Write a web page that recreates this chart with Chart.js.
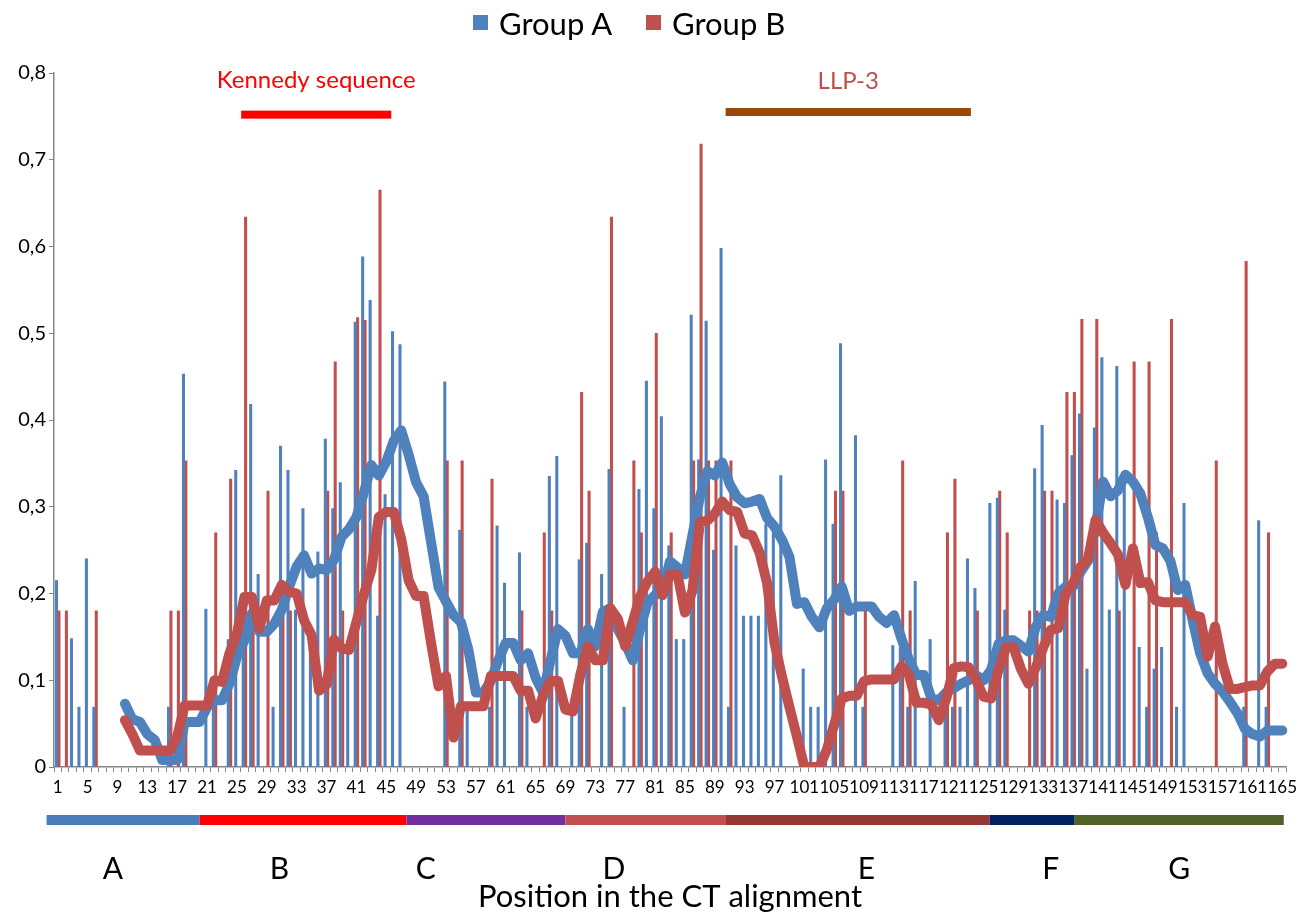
<!DOCTYPE html>
<html>
<head>
<meta charset="utf-8">
<script src="https://cdn.jsdelivr.net/npm/chart.js@4.4.1/dist/chart.umd.min.js"></script>
<style>
html, body { margin: 0; padding: 0; background: #fff; }
#wrap { position: relative; width: 1309px; height: 916px; font-family: Lato, "Open Sans", sans-serif; }
.lg { position: absolute; top: 3px; font-size: 31px; line-height: 40px; color: #000; white-space: nowrap; }
.sq { position: absolute; top: 15px; width: 15px; height: 15px; }
</style>
</head>
<body>
<div id="wrap">
  <canvas id="chart" width="1309" height="916"></canvas>
  <div id="legend"></div>
</div>
<script>
// positions 1..165 in the CT alignment
var positions = [];
for (var i = 1; i <= 165; i++) positions.push(String(i));

var groupA = [
  0.215, null, 0.148, 0.069, 0.24, 0.069, null, null, null, null,
  null, null, null, null, null, 0.069, null, 0.453, null, null,
  0.182, 0.069, null, 0.147, 0.342, 0.18, 0.418, 0.222, null, 0.069,
  0.37, 0.342, 0.181, 0.298, 0.14, 0.248, 0.378, 0.298, 0.328, 0.146,
  0.513, 0.588, 0.538, 0.174, 0.314, 0.502, 0.487, null, null, null,
  null, null, 0.444, null, 0.273, 0.069, null, null, 0.069, 0.278,
  0.212, null, 0.247, 0.069, null, null, 0.335, 0.358, null, 0.069,
  0.239, 0.258, null, 0.222, 0.343, null, 0.069, null, 0.32, 0.445,
  0.298, 0.404, 0.255, 0.147, 0.147, 0.521, 0.354, 0.514, 0.25, 0.598,
  0.069, 0.255, 0.174, 0.174, 0.174, 0.28, 0.27, 0.336, null, null,
  0.113, 0.069, 0.069, 0.354, 0.28, 0.488, null, 0.382, 0.069, null,
  null, null, 0.14, 0.138, 0.069, 0.214, null, 0.147, null, 0.069,
  0.069, 0.069, 0.24, 0.206, null, 0.304, 0.31, 0.181, null, null,
  null, 0.344, 0.394, null, 0.308, 0.304, 0.359, 0.407, 0.113, 0.391,
  0.472, 0.181, 0.462, 0.34, null, 0.138, 0.069, 0.113, 0.138, null,
  0.069, 0.304, null, null, null, null, null, null, null, 0.069,
  null, 0.284, 0.069, null, null
];

var groupB = [
  0.18, 0.18, null, null, null, 0.18, null, null, null, null,
  null, null, null, null, null, 0.18, 0.18, 0.353, null, null,
  null, 0.27, null, 0.332, null, 0.634, 0.18, null, 0.318, null,
  0.18, 0.18, null, null, null, null, 0.318, 0.467, 0.18, null,
  0.518, 0.515, null, 0.665, null, null, null, null, null, null,
  null, null, 0.353, null, 0.353, null, null, null, 0.332, null,
  null, null, 0.18, null, null, 0.27, 0.18, null, null, null,
  0.432, 0.318, null, null, 0.634, null, null, 0.353, 0.27, null,
  0.5, null, 0.27, null, null, 0.353, 0.718, 0.353, 0.353, null,
  0.353, null, null, null, null, null, null, null, null, null,
  null, null, null, null, 0.318, 0.318, null, null, 0.18, null,
  null, null, null, 0.353, 0.18, null, null, null, null, 0.27,
  0.332, null, null, 0.18, null, null, 0.318, 0.27, null, null,
  0.18, 0.18, 0.318, 0.318, null, 0.432, 0.432, 0.516, null, 0.516,
  null, null, 0.18, null, 0.467, null, 0.467, 0.27, null, 0.516,
  null, null, null, null, null, 0.353, null, null, null, 0.583,
  null, null, 0.27, null, null
];

// moving averages
var trendA = [
  null, null, null, null, null, null, null, null, null,
  0.073, 0.055, 0.052, 0.038, 0.031, 0.008, 0.008, 0.008, 0.052, 0.052, 0.052,
  0.069, 0.077, 0.077, 0.096, 0.127, 0.146, 0.177, 0.156, 0.156, 0.165,
  0.181, 0.208, 0.231, 0.244, 0.223, 0.229, 0.227, 0.239, 0.265, 0.274,
  0.288, 0.316, 0.348, 0.336, 0.352, 0.376, 0.388, 0.36, 0.328, 0.312,
  0.259, 0.207, 0.191, 0.175, 0.167, 0.135, 0.086, 0.086, 0.099, 0.123,
  0.143, 0.143, 0.123, 0.131, 0.103, 0.086, 0.123, 0.159, 0.151, 0.131,
  0.131, 0.159, 0.139, 0.179, 0.183, 0.159, 0.143, 0.123, 0.159, 0.19,
  0.198, 0.205, 0.237, 0.23, 0.222, 0.267, 0.311, 0.341, 0.336, 0.351,
  0.326, 0.311, 0.304, 0.306, 0.309, 0.287, 0.277, 0.262, 0.242, 0.188,
  0.19, 0.173, 0.161, 0.183, 0.193, 0.208, 0.18, 0.185, 0.185, 0.185,
  0.173, 0.166, 0.175, 0.148, 0.124, 0.106, 0.106, 0.079, 0.077, 0.086,
  0.091, 0.096, 0.1, 0.106, 0.1, 0.112, 0.142, 0.146, 0.146, 0.14,
  0.133, 0.162, 0.175, 0.173, 0.2, 0.208, 0.208, 0.225, 0.238, 0.277,
  0.329, 0.312, 0.319, 0.337, 0.329, 0.315, 0.288, 0.256, 0.252, 0.238,
  0.204, 0.21, 0.169, 0.131, 0.108, 0.096, 0.087, 0.075, 0.062, 0.044,
  0.038, 0.035, 0.042, 0.042, 0.042
];

var trendB = [
  null, null, null, null, null, null, null, null, null,
  0.054, 0.038, 0.019, 0.019, 0.019, 0.019, 0.019, 0.035, 0.071, 0.071, 0.071,
  0.071, 0.1, 0.098, 0.131, 0.154, 0.196, 0.196, 0.16, 0.192, 0.192,
  0.21, 0.202, 0.2, 0.169, 0.152, 0.088, 0.095, 0.147, 0.137, 0.135,
  0.167, 0.199, 0.227, 0.288, 0.294, 0.294, 0.263, 0.215, 0.197, 0.197,
  0.143, 0.093, 0.105, 0.034, 0.07, 0.07, 0.07, 0.07, 0.105, 0.105,
  0.105, 0.105, 0.088, 0.088, 0.056, 0.082, 0.099, 0.099, 0.066, 0.064,
  0.107, 0.139, 0.123, 0.123, 0.183, 0.171, 0.139, 0.167, 0.197, 0.214,
  0.225, 0.198, 0.222, 0.222, 0.178, 0.203, 0.282, 0.284, 0.292, 0.306,
  0.296, 0.294, 0.269, 0.267, 0.247, 0.212, 0.143, 0.104, 0.069, 0.035,
  0, 0, 0, 0.02, 0.049, 0.079, 0.082, 0.082, 0.099, 0.101,
  0.101, 0.101, 0.101, 0.116, 0.106, 0.074, 0.074, 0.072, 0.054, 0.079,
  0.114, 0.116, 0.115, 0.1, 0.081, 0.079, 0.112, 0.138, 0.138, 0.113,
  0.096, 0.115, 0.138, 0.158, 0.16, 0.2, 0.212, 0.231, 0.24, 0.285,
  0.27, 0.258, 0.245, 0.21, 0.252, 0.212, 0.213, 0.192, 0.19, 0.19,
  0.19, 0.19, 0.175, 0.173, 0.127, 0.162, 0.119, 0.09, 0.09, 0.092,
  0.094, 0.094, 0.11, 0.119, 0.119
];

// regions of the alignment shown under the axis
var regionNames  = ['A', 'B', 'C', 'D', 'E', 'F', 'G'];
var regionBounds = [-0.5, 20, 47.7, 69, 90.5, 125.8, 137.2, 165.2];
var regionColors = ['#4a7ebb', '#ff0000', '#7030a0', '#c0504d', '#953735', '#002060', '#4f6228'];
var letterPos    = [8.4, 30.7, 50.3, 75.5, 109.3, 134.0, 151.2];

// marked stretches above the plot
var markNames  = ['Kennedy sequence', 'LLP-3'];
var markFrom   = [25.57, 90.45];
var markTo     = [45.67, 123.3];
var markLevel  = [0.752, 0.755];
var markText   = [0.792, 0.79];
var markColors = ['#ff0000', '#984807'];
var markTextColors = ['#ff0000', '#c0504d'];

var BLUE = '#4f81bd', RED = '#c0504d';
var FONT = 'Lato, "Open Sans", sans-serif';

// legend, laid out like the original
var legendEl = document.getElementById('legend');
var legendItems = [['Group A', BLUE, 473], ['Group B', RED, 646]];
legendItems.forEach(function(it) {
  legendEl.innerHTML += '<span class="sq" style="left:' + it[2] + 'px;background:' + it[1] + '"></span>' +
    '<span class="lg" style="left:' + (it[2] + 26) + 'px">' + it[0] + '</span>';
});

var extras = {
  id: 'extras',
  afterDraw: function(chart) {
    var ctx = chart.ctx, xs = chart.scales.x, ys = chart.scales.y;
    var px = function(p) { return xs.getPixelForValue(p - 1); };
    ctx.save();
    ctx.textAlign = 'center';
    ctx.textBaseline = 'middle';
    // marked stretches
    for (var i = 0; i < markNames.length; i++) {
      var x0 = px(markFrom[i]), x1 = px(markTo[i]);
      var yy = ys.getPixelForValue(markLevel[i]);
      ctx.fillStyle = markColors[i];
      ctx.fillRect(x0, yy - 4, x1 - x0, 8);
      ctx.fillStyle = markTextColors[i];
      ctx.font = '24px ' + FONT;
      ctx.fillText(markNames[i], (x0 + x1) / 2, ys.getPixelForValue(markText[i]));
    }
    // region strip and letters
    for (var r = 0; r < regionNames.length; r++) {
      var a = px(regionBounds[r]), b = px(regionBounds[r + 1]);
      ctx.fillStyle = regionColors[r];
      ctx.fillRect(a, 815, b - a, 10);
      ctx.fillStyle = '#000';
      ctx.font = '30px ' + FONT;
      ctx.fillText(regionNames[r], px(letterPos[r]), 869);
    }
    ctx.restore();
  }
};

new Chart(document.getElementById('chart'), {
  type: 'bar',
  data: {
    labels: positions,
    datasets: [
      { type: 'line', label: 'Group B trend', data: trendB, borderColor: RED, borderWidth: 10,
        pointRadius: 0, tension: 0, borderJoinStyle: 'round', borderCapStyle: 'round', order: 0 },
      { type: 'line', label: 'Group A trend', data: trendA, borderColor: BLUE, borderWidth: 10,
        pointRadius: 0, tension: 0, borderJoinStyle: 'round', borderCapStyle: 'round', order: 1 },
      { label: 'Group A', data: groupA, backgroundColor: BLUE, barThickness: 2.4, order: 2 },
      { label: 'Group B', data: groupB, backgroundColor: RED, barThickness: 2.4, order: 2 }
    ]
  },
  options: {
    responsive: false,
    animation: false,
    layout: { padding: { top: 73, right: 23, left: 0, bottom: 0 } },
    plugins: { legend: { display: false }, tooltip: { enabled: false } },
    scales: {
      x: {
        afterFit: function(s) { s.height = 149; },
        grid: { drawOnChartArea: false, color: '#868686', tickLength: 5, offset: true },
        border: { color: '#868686', width: 1.5 },
        ticks: {
          autoSkip: false, maxRotation: 0, minRotation: 0, padding: 5,
          color: '#000', font: { family: FONT, size: 17 },
          callback: function(v, i) { return i % 4 === 0 ? positions[i] : ''; }
        },
        title: { display: true, text: 'Position in the CT alignment', color: '#000',
                 font: { family: FONT, size: 31 }, padding: { top: 0, bottom: 0 } }
      },
      y: {
        min: 0, max: 0.8,
        afterFit: function(s) { s.width = 54; },
        grid: { drawOnChartArea: false, color: '#868686', tickLength: 5 },
        border: { color: '#868686', width: 1.5 },
        ticks: {
          stepSize: 0.1, padding: 3, color: '#000', font: { family: FONT, size: 20 },
          callback: function(v) { return v === 0 ? '0' : v.toFixed(1).replace('.', ','); }
        }
      }
    }
  },
  plugins: [extras]
});
</script>
</body>
</html>
